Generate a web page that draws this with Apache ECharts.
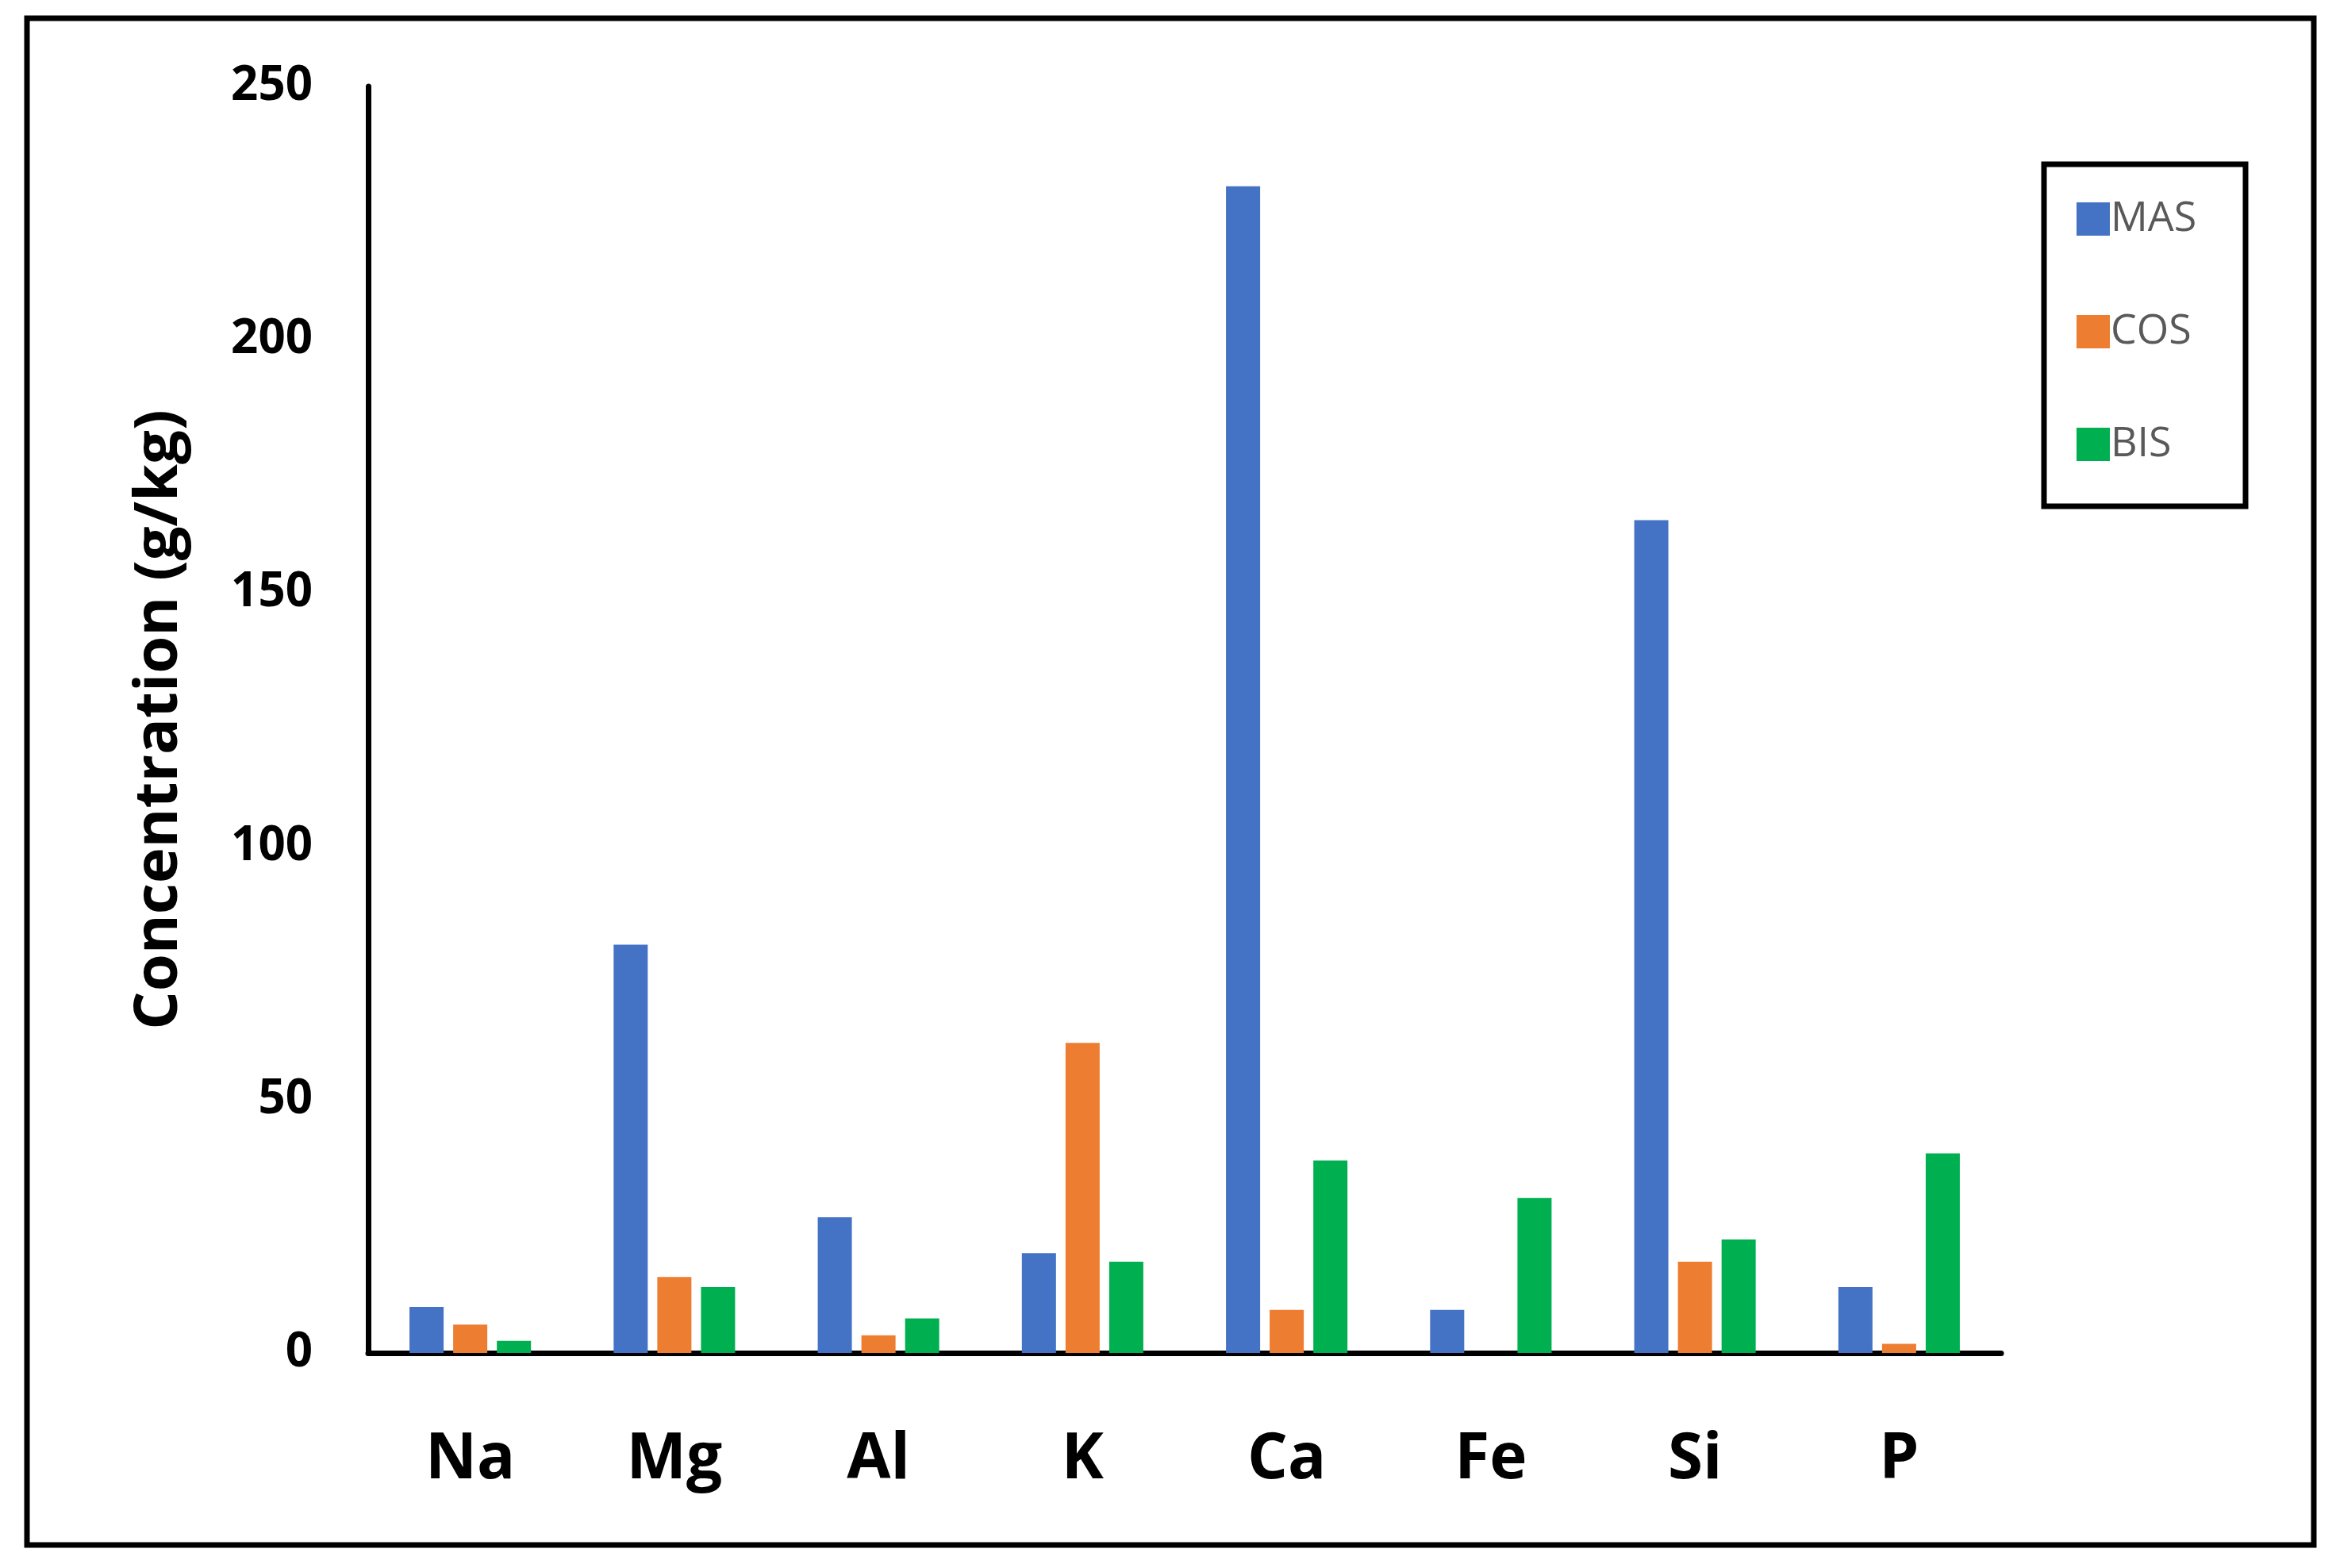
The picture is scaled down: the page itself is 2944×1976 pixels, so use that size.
<!DOCTYPE html>
<html><head><meta charset="utf-8">
<script src="https://cdn.jsdelivr.net/npm/echarts@6/dist/echarts.min.js"></script>
<style>html,body{margin:0;padding:0;background:#fff}#c{width:2944px;height:1976px}</style>
</head><body><div id="c"></div>
<script>
const categories = ['Na','Mg','Al','K','Ca','Fe','Si','P'];
const MAS = [9.1, 80.6, 26.8, 19.7, 230.3, 8.5, 164.4, 13];
const COS = [5.6, 15, 3.5, 61.2, 8.5, 0, 18, 1.8];
const BIS = [2.4, 13, 6.8, 18, 38, 30.6, 22.4, 39.4];
const yTicks = {min:0, max:250, interval:50};
const font = 'Open Sans, Calibri, sans-serif';
const chart = echarts.init(document.getElementById('c'));
const bar = (name, data, color) => ({name, type:'bar', data, barWidth:43, barGap:'28%', itemStyle:{color}});
chart.setOption({
  animation:false,
  backgroundColor:'#fff',
  graphic:[
    {type:'rect', shape:{x:34,y:23,width:2882,height:1924}, style:{fill:'none', stroke:'#000', lineWidth:7}},
    {type:'rect', shape:{x:2576,y:207,width:254,height:431}, style:{fill:'none', stroke:'#000', lineWidth:7}}
  ],
  grid:{left:464, right:2944-2522, top:109, bottom:1976-1705},
  legend:{orient:'vertical', left:2612, top:245, itemWidth:42, itemHeight:42, itemGap:90,
    icon:'rect', textStyle:{fontFamily:font, fontSize:52, color:'#595959', padding:[0,0,0,-4]},
    data:['MAS','COS','BIS']},
  xAxis:{type:'category', data:categories,
    axisLine:{lineStyle:{color:'#000', width:7}}, axisTick:{show:false},
    axisLabel:{fontFamily:font, fontWeight:'bold', fontSize:80, color:'#000', margin:95}},
  yAxis:{type:'value', min:yTicks.min, max:yTicks.max, interval:yTicks.interval,
    splitLine:{show:false}, axisLine:{show:true, lineStyle:{color:'#000', width:7}}, axisTick:{show:false},
    axisLabel:{fontFamily:font, fontWeight:'bold', fontSize:60, color:'#000', margin:70},
    name:'Concentration (g/kg)', nameLocation:'middle', nameGap:225,
    nameTextStyle:{fontFamily:font, fontWeight:'bold', fontSize:76, color:'#000'}},
  series:[bar('MAS',MAS,'#4472C4'), bar('COS',COS,'#ED7D31'), bar('BIS',BIS,'#00B050')]
});
</script></body></html>
